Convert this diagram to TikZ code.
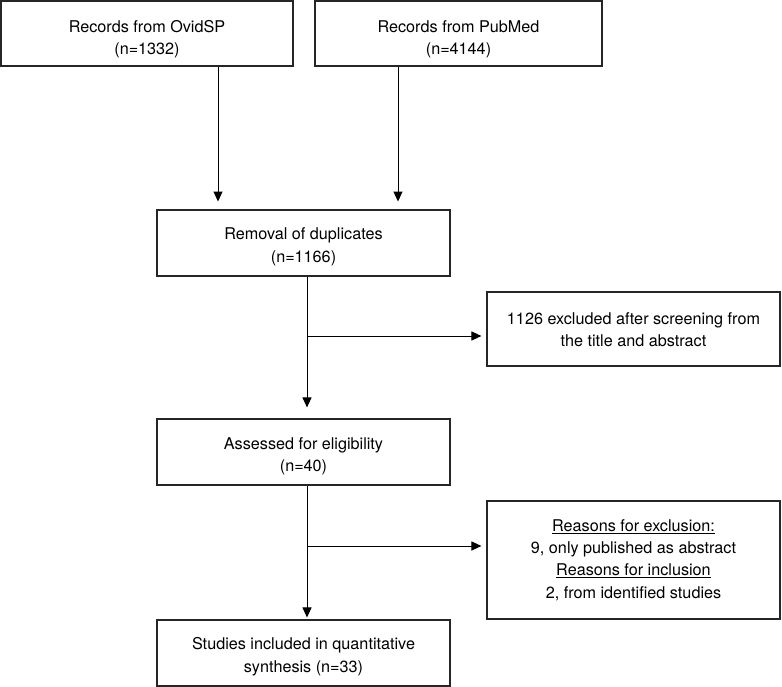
\documentclass[tikz,border=0pt]{standalone}
\usepackage{fontspec}
\setmainfont{TeX Gyre Heros}
\usetikzlibrary{arrows.meta,calc}
\newcommand{\tdown}[1]{\rule{0pt}{\dimexpr 11.8pt+#1pt+#1pt\relax}}
\begin{document}
\begin{tikzpicture}[x=1pt,y=-1pt,
  box/.style={draw=black!85, line width=1.1pt, align=center, inner sep=0pt,
    font=\fontsize{16.2}{22.4}\selectfont},
  arr/.style={-{Triangle[length=10pt,width=9pt]}, line width=1pt, draw=black}]
\useasboundingbox (0,0) rectangle (782,687);
\node[box, minimum width=292pt, minimum height=65pt] (ovid) at (147,33.5) {\tdown{6}Records from OvidSP\\(n=1332)};
\node[box, minimum width=287pt, minimum height=65pt] (pubmed) at (458.5,33.5) {\tdown{6}Records from PubMed\\(n=4144)};
\node[box, minimum width=293pt, minimum height=66pt] (removal) at (303.5,243) {\tdown{4}Removal of duplicates\\(n=1166)};
\node[box, minimum width=293pt, minimum height=74pt] (excl) at (633.5,329) {\tdown{1}1126 excluded after screening from\\the title and abstract};
\node[box, minimum width=293pt, minimum height=66pt] (assessed) at (303.5,452) {\tdown{4.5}Assessed for eligibility\\(n=40)};
\node[box, minimum width=293pt, minimum height=118pt] (reasons) at (633.5,560) {\underline{Reasons for exclusion:}\\9, only published as abstract\\\underline{Reasons for inclusion}\\2, from identified studies};
\node[box, minimum width=293pt, minimum height=66pt] (studies) at (303.5,653) {\tdown{4}Studies included in quantitative\\synthesis (n=33)};
% arrows from sources
\draw[arr] ([xshift=71pt]ovid.south) -- ++(0,135);
\draw[arr] ([xshift=-60.5pt]pubmed.south) -- ++(0,135);
% main trunk
\draw[arr] ([xshift=3.5pt]removal.south) -- ([xshift=3.5pt,yshift=11pt]assessed.north);
\coordinate (b1) at (307,336);
\draw[arr] (b1) -- ($(b1 -| excl.west)+(-5,0)$);
\draw[arr] ([xshift=3.5pt]assessed.south) -- ([xshift=3.5pt,yshift=2pt]studies.north);
\coordinate (b2) at (307,546);
\draw[arr] (b2) -- ($(b2 -| reasons.west)+(-5,0)$);
\end{tikzpicture}
\end{document}
